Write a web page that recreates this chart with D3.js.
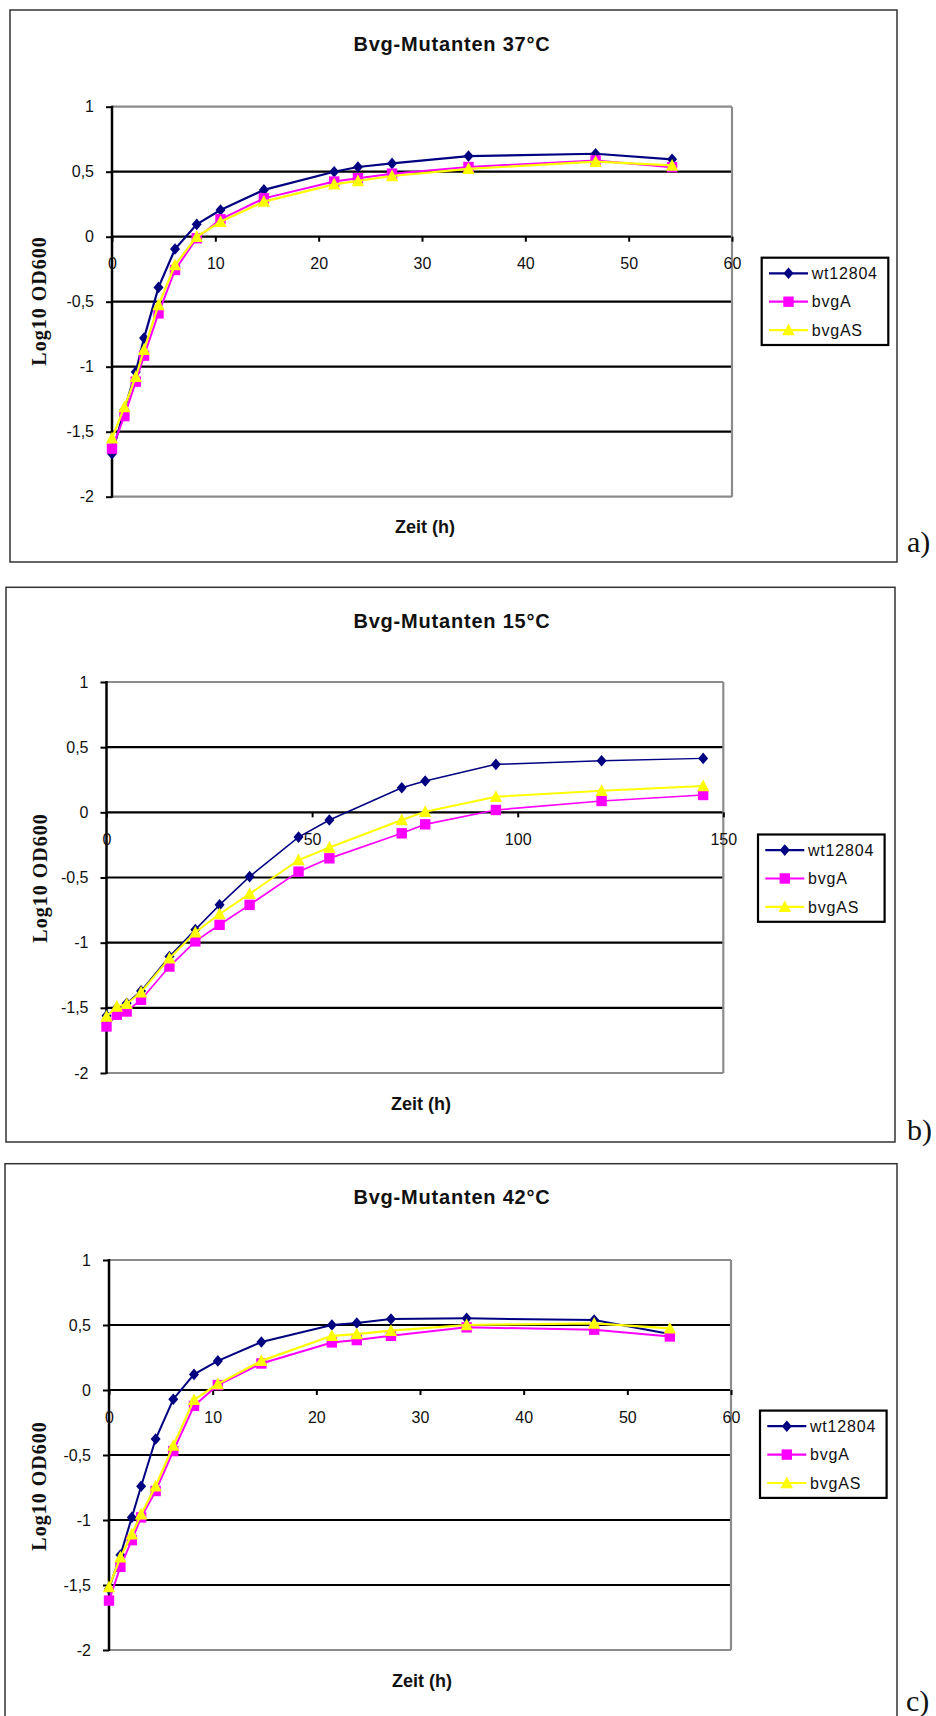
<!DOCTYPE html>
<html>
<head>
<meta charset="utf-8">
<script src="https://cdn.jsdelivr.net/npm/d3@7"></script>
<style>
body { margin: 0; background: #fff; }
text { font-family: "Liberation Sans", Arial, sans-serif; fill: #111; }
</style>
</head>
<body>
<div id="chart"></div>
<script>
var seriesNames = ["wt12804", "bvgA", "bvgAS"];
var seriesColors = ["#000080", "#ff00ff", "#ffff00"];
var seriesShapes = ["diamond", "square", "triangle"];

var yTicks = [1, 0.5, 0, -0.5, -1, -1.5, -2];
var yTickLabels = ["1", "0,5", "0", "-0,5", "-1", "-1,5", "-2"];

// 37°C
var time37 = [0, 1.2, 2.3, 3.1, 4.5, 6.1, 8.2, 10.5, 14.7, 21.5, 23.8, 27.1, 34.5, 46.8, 54.2];
var wt37 = [-1.67, -1.33, -1.04, -0.78, -0.39, -0.095, 0.095, 0.205, 0.36, 0.5, 0.536, 0.564, 0.62, 0.638, 0.595];
var bvgA37 = [-1.63, -1.38, -1.115, -0.915, -0.59, -0.256, -0.012, 0.134, 0.295, 0.424, 0.45, 0.485, 0.536, 0.587, 0.535];
var bvgAS37 = [-1.55, -1.31, -1.077, -0.87, -0.525, -0.218, 0.0, 0.115, 0.27, 0.403, 0.429, 0.467, 0.522, 0.577, 0.548];
var xTicks37 = [0, 10, 20, 30, 40, 50, 60];

// 15°C
var time15 = [0, 2.5, 4.9, 8.4, 15.3, 21.6, 27.5, 34.8, 46.7, 54.2, 71.8, 77.5, 94.7, 120.4, 145.1];
var wt15 = [-1.56, -1.5, -1.465, -1.37, -1.107, -0.9, -0.71, -0.493, -0.19, -0.059, 0.189, 0.24, 0.368, 0.396, 0.414];
var bvgA15 = [-1.643, -1.553, -1.528, -1.438, -1.183, -0.99, -0.863, -0.71, -0.455, -0.353, -0.161, -0.092, 0.018, 0.087, 0.133];
var bvgAS15 = [-1.566, -1.49, -1.47, -1.38, -1.119, -0.92, -0.78, -0.626, -0.366, -0.27, -0.059, 0.005, 0.12, 0.166, 0.202];
var xTicks15 = [0, 50, 100, 150];

// 42°C
var time42 = [0, 1.1, 2.2, 3.1, 4.5, 6.2, 8.2, 10.5, 14.7, 21.5, 23.9, 27.2, 34.5, 46.8, 54.1];
var wt42 = [-1.53, -1.27, -0.98, -0.74, -0.377, -0.071, 0.12, 0.224, 0.369, 0.5, 0.515, 0.546, 0.551, 0.539, 0.43];
var bvgA42 = [-1.62, -1.36, -1.155, -0.98, -0.777, -0.47, -0.122, 0.038, 0.204, 0.366, 0.384, 0.417, 0.482, 0.464, 0.412];
var bvgAS42 = [-1.516, -1.287, -1.11, -0.956, -0.74, -0.428, -0.076, 0.046, 0.224, 0.417, 0.43, 0.456, 0.5, 0.512, 0.474];
var xTicks42 = [0, 10, 20, 30, 40, 50, 60];

var panels = [
    {title: "Bvg-Mutanten 37°C", tag: "a)", time: time37, values: [wt37, bvgA37, bvgAS37], xMax: 60, xTicks: xTicks37,
     box: [10, 10, 897, 562], plot: [112, 106.7, 732, 496.7], titleY: 44, ylab: [39, 301], xlab: [425, 527],
     legend: [761.7, 257.7], tagPos: [907, 552], lw: [2.2, 2, 2.2]},
    {title: "Bvg-Mutanten 15°C", tag: "b)", time: time15, values: [wt15, bvgA15, bvgAS15], xMax: 150, xTicks: xTicks15,
     box: [6, 587.3, 895, 1142], plot: [106.5, 682, 723.3, 1073], titleY: 621, ylab: [40, 878], xlab: [421, 1104],
     legend: [758, 834.5], tagPos: [907, 1140], lw: [1.5, 1.7, 2]},
    {title: "Bvg-Mutanten 42°C", tag: "c)", time: time42, values: [wt42, bvgA42, bvgAS42], xMax: 60, xTicks: xTicks42,
     box: [5, 1163.7, 897, 1730], plot: [109, 1260, 731, 1650], titleY: 1197, ylab: [39, 1486], xlab: [422, 1681],
     legend: [760, 1410.6], tagPos: [906, 1711], lw: [2, 2, 2.2]}
];

var svg = d3.select("#chart").append("svg")
    .attr("width", 936)
    .attr("height", 1716);

svg.append("rect").attr("width", 936).attr("height", 1716).attr("fill", "#fff");

function marker(sel, shape, color) {
    if (shape == "diamond") {
        sel.append("path").attr("d", "M0,-5.8L5,0L0,5.8L-5,0Z").attr("fill", color);
    } else if (shape == "square") {
        sel.append("rect").attr("x", -5.2).attr("y", -5.2).attr("width", 10.4).attr("height", 10.4).attr("fill", color);
    } else {
        sel.append("path").attr("d", "M0,-6.5L6.2,5.2L-6.2,5.2Z").attr("fill", color);
    }
}

panels.forEach(function (p) {
    var g = svg.append("g");
    var L = p.plot[0], T = p.plot[1], R = p.plot[2], B = p.plot[3];

    // outer frame
    g.append("rect")
        .attr("x", p.box[0]).attr("y", p.box[1])
        .attr("width", p.box[2] - p.box[0]).attr("height", p.box[3] - p.box[1])
        .attr("fill", "none").attr("stroke", "#333").attr("stroke-width", 1.5);

    var x = d3.scaleLinear().domain([0, p.xMax]).range([L, R]);
    var y = d3.scaleLinear().domain([-2, 1]).range([B, T]);

    // gridlines
    g.selectAll(".grid").data(yTicks).enter().append("line")
        .attr("x1", L).attr("x2", R)
        .attr("y1", function (d) { return y(d); })
        .attr("y2", function (d) { return y(d); })
        .attr("stroke", function (d) { return (d == 1 || d == -2) ? "#8c8c8c" : "#000"; })
        .attr("stroke-width", 2.2);
    g.append("line").attr("x1", R).attr("x2", R).attr("y1", T).attr("y2", B)
        .attr("stroke", "#8c8c8c").attr("stroke-width", 2.2);

    // y axis
    var yAxis = d3.axisLeft(y).tickValues(yTicks)
        .tickFormat(function (d, i) { return yTickLabels[i]; })
        .tickSize(6).tickPadding(12);
    var ya = g.append("g").attr("transform", "translate(" + L + ",0)").call(yAxis);
    ya.select(".domain").remove();
    ya.selectAll(".tick line").attr("stroke", "#000").attr("stroke-width", 2);
    ya.selectAll(".tick text").attr("font-size", 16).attr("font-family", "Liberation Sans, Arial, sans-serif").attr("fill", "#111");
    g.append("line").attr("x1", L).attr("x2", L).attr("y1", T - 1).attr("y2", B + 1)
        .attr("stroke", "#000").attr("stroke-width", 2.5);

    // x axis at zero
    var xAxis = d3.axisBottom(x).tickValues(p.xTicks).tickSize(5).tickSizeOuter(0);
    var xa = g.append("g").attr("transform", "translate(0," + y(0) + ")").call(xAxis);
    xa.select(".domain").remove();
    xa.selectAll(".tick line").attr("stroke", "#000").attr("stroke-width", 2);
    xa.selectAll(".tick text").attr("y", 27).attr("dy", "0.35em")
        .attr("font-size", 16).attr("font-family", "Liberation Sans, Arial, sans-serif").attr("fill", "#111");

    // titles
    g.append("text").attr("x", 452).attr("y", p.titleY).attr("dy", "0.35em")
        .attr("text-anchor", "middle").attr("font-size", 20).attr("font-weight", "bold")
        .attr("letter-spacing", 0.8).text(p.title);
    g.append("text").attr("x", p.xlab[0]).attr("y", p.xlab[1]).attr("dy", "0.35em")
        .attr("text-anchor", "middle").attr("font-size", 18).attr("font-weight", "bold")
        .text("Zeit (h)");
    g.append("text").attr("transform", "translate(" + p.ylab[0] + "," + p.ylab[1] + ") rotate(-90)")
        .attr("dy", "0.35em").attr("text-anchor", "middle")
        .attr("font-size", 20).attr("font-weight", "bold").attr("letter-spacing", 1)
        .style("font-family", "'Liberation Serif', 'Times New Roman', serif")
        .text("Log10 OD600");
    g.append("text").attr("x", p.tagPos[0]).attr("y", p.tagPos[1])
        .attr("font-size", 30)
        .style("font-family", "'Liberation Serif', 'Times New Roman', serif")
        .text(p.tag);

    // series
    var line = d3.line()
        .x(function (d) { return x(d[0]); })
        .y(function (d) { return y(d[1]); });
    p.values.forEach(function (vals, si) {
        var pts = p.time.map(function (t, i) { return [t, vals[i]]; });
        g.append("path").datum(pts).attr("d", line)
            .attr("fill", "none").attr("stroke", seriesColors[si]).attr("stroke-width", p.lw[si]);
        var m = g.selectAll(".m" + si).data(pts).enter().append("g")
            .attr("transform", function (d) { return "translate(" + x(d[0]) + "," + y(d[1]) + ")"; });
        marker(m, seriesShapes[si], seriesColors[si]);
    });

    // legend
    var lg = g.append("g").attr("transform", "translate(" + p.legend[0] + "," + p.legend[1] + ")");
    lg.append("rect").attr("width", 126.6).attr("height", 87.3)
        .attr("fill", "#fff").attr("stroke", "#000").attr("stroke-width", 2.2);
    seriesNames.forEach(function (name, i) {
        var ry = 15.6 + i * 28.4;
        lg.append("line").attr("x1", 7.3).attr("x2", 46.3).attr("y1", ry).attr("y2", ry)
            .attr("stroke", seriesColors[i]).attr("stroke-width", 2.2);
        marker(lg.append("g").attr("transform", "translate(26.8," + ry + ")"), seriesShapes[i], seriesColors[i]);
        lg.append("text").attr("x", 50).attr("y", ry).attr("dy", "0.35em")
            .attr("font-size", 16).attr("letter-spacing", 0.8).text(name);
    });
});
</script>
</body>
</html>
